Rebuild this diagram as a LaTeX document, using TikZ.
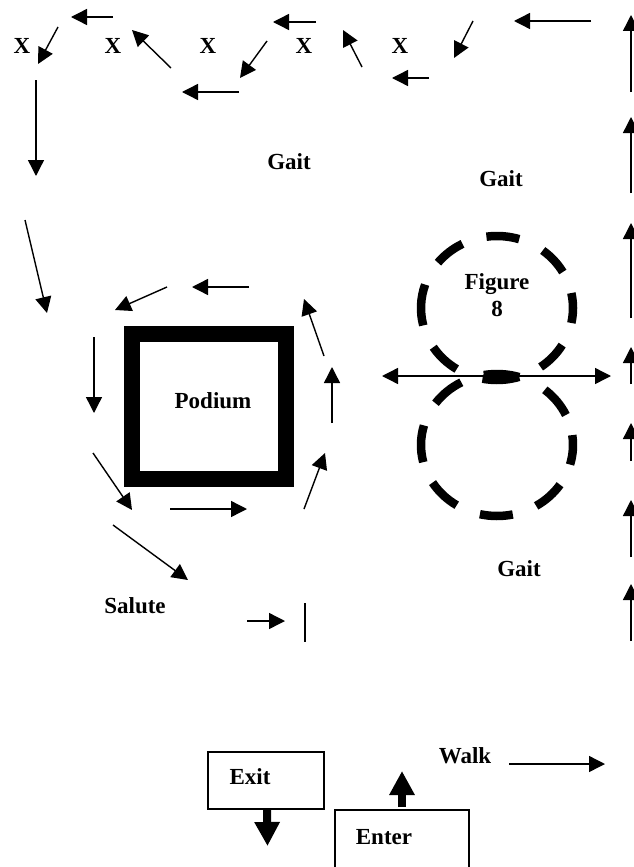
\documentclass[tikz,border=0pt]{standalone}
\usepackage{fontspec}
\setmainfont{Liberation Serif}
\usetikzlibrary{arrows.meta}
\tikzset{
  x=1pt,y=-1pt,
  flow/.style={draw=black,line width=1.4pt,-{Triangle[length=16pt,width=16pt]}},
  twoway/.style={draw=black,line width=1.4pt,{Triangle[length=16pt,width=16pt]}-{Triangle[length=16pt,width=16pt]}},
  fat/.style={draw=black,line width=8pt,-{Triangle[length=24pt,width=24pt]}},
  lbl/.style={font=\fontsize{23}{27}\selectfont\bfseries,inner sep=0pt,align=center},
  dashseg/.style={draw=black,line width=8.5pt}
}
\begin{document}
\begin{tikzpicture}
\useasboundingbox (0,0) rectangle (634,867);
% single-line arrows
\foreach \a/\b/\c/\d in {113/17/71/17, 58/27/38/64, 36/80/36/176, 171/68/132/30, 239/92/182/92, 267/41/240/78, 316/22/273/22, 362/67/343/30, 429/78/392/78, 473/21/454/58, 591/21/514/21,
 631/92/631/15, 631/193/631/117, 631/318/631/223, 631/384/631/347, 631/461/631/423, 631/557/631/500, 631/641/631/584,
 25/220/47/313, 167/287/115/310, 249/287/192/287, 324/356/304/299, 332/423/332/367, 94/337/94/413,
 93/453/132/510, 170/509/247/509, 304/509/325/453, 113/525/188/580, 247/621/285/621, 509/764/605/764}
  {\draw[flow] (\a,\b) -- (\c,\d);}
\draw[draw=black,line width=1.5pt] (305,603) -- (305,642);
% podium
\draw[draw=black,line width=16pt] (132,334) rectangle (286,479);
% figure eight
\foreach \s/\e in {98/73, 53/30, 12/-12, -31/-55, -73/-101, -122/-147, -166/-199, 141/117}
  {\draw[dashseg] (497,308) ++(-\s:76 and 72) arc[start angle=-\s,end angle=-\e,x radius=76,y radius=72];}
\foreach \s/\e in {100/73, 51/25, 8/-16, -34/-59, -78/-103, -122/-148, -166/-196, 144/118}
  {\draw[dashseg] (497,445) ++(-\s:76 and 71) arc[start angle=-\s,end angle=-\e,x radius=76,y radius=71];}
\coordinate (crossL) at (382,376);
\coordinate (crossR) at (611,376);
\draw[twoway] (crossL) -- (crossR);
% boxes
\draw[draw=black,line width=1.5pt] (208,752) rectangle (324,809);
\draw[draw=black,line width=1.5pt] (335,880) -- (335,810) -- (469,810) -- (469,880);
\draw[fat] (267,810) -- (267.5,846);
\draw[fat] (402,807) -- (402,771);
% labels
\foreach \n/\x in {xa/22,xb/113,xc/208,xd/304,xe/400} {\node[lbl] (\n) at (\x,46) {X};}
\node[lbl] (gaita) at (289,162) {Gait};
\node[lbl] (gaitb) at (501,179) {Gait};
\node[lbl] (fig) at (497,295) {Figure\\8};
\node[lbl] (pod) at (213,401) {Podium};
\node[lbl] (gaitc) at (519,569) {Gait};
\node[lbl] (sal) at (135,606) {Salute};
\node[lbl] (walk) at (465,756) {Walk};
\node[lbl] (exit) at (250,777) {Exit};
\node[lbl] (enter) at (384,837) {Enter};
\end{tikzpicture}
\end{document}
